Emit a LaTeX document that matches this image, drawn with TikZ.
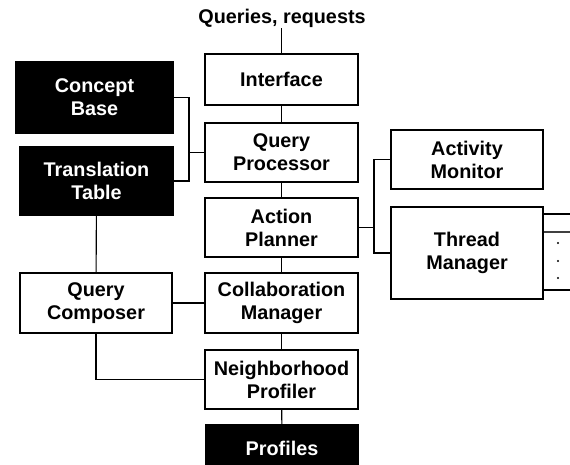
\documentclass[tikz,border=0pt]{standalone}
\usepackage{fontspec}
\setmainfont{Liberation Sans}
\usetikzlibrary{positioning}

\begin{document}
\begin{tikzpicture}[x=1pt,y=-1pt,
    box/.style={draw, line width=1.1pt, fill=white, inner sep=0pt,
        minimum width=153pt, minimum height=59pt, align=center,
        font=\bfseries\fontsize{19.8}{23}\selectfont},
    store/.style={box, fill=black, text=white},
    wire/.style={line width=1.1pt}]
    \clip (0,0) rectangle (570,465);

    % Main column
    \node[font=\bfseries\fontsize{19.8}{23}\selectfont, inner sep=1pt] (queries) at (282,18) {Queries, requests};
    \node[box, minimum height=51pt] (iface) at (281.5,79.5) {Interface};
    \node[box] (qproc) at (281.5,152.5) {Query\\Processor};
    \node[box] (planner) at (281.5,227.5) {Action\\Planner};
    \node[box, minimum height=60pt] (collab) at (281.5,303) {Collaboration\\Manager};
    \node[box] (nprof) at (281.5,379.5) {Neighborhood\\Profiler};
    \node[store, minimum width=152pt, minimum height=46pt] (profiles) at (282,448) {Profiles};

    % Knowledge stores and composer
    \node[store, minimum width=157pt, minimum height=71pt] (cbase) at (94.5,97.5) {Concept\\Base};
    \node[store, minimum height=68pt] (ttable) at (96.5,181) {Translation\\Table};
    \node[box, minimum width=152pt, minimum height=60pt] (qcomp) at (96,303) {Query\\Composer};

    % Monitor and threads
    \node[box, minimum width=152pt] (amon) at (467,159.5) {Activity\\Monitor};
    \node[box, minimum width=152pt, minimum height=92pt] (tman) at (467,253) {Thread\\Manager};

    \coordinate (kb) at (189,152);
    \coordinate (tb) at (374,227);
    \coordinate (out1) at (575,214);
    \coordinate (out2) at (575,232);
    \coordinate (out3) at (575,290);

    % Connectors
    \draw[wire] (iface.north) -- (iface.north |- queries.south);
    \draw[wire] (iface) -- (qproc);
    \draw[wire] (qproc) -- (planner);
    \draw[wire] (planner) -- (collab);
    \draw[wire] (collab) -- (nprof);
    \draw[wire] (nprof) -- (profiles);
    \draw[wire] (cbase.east) -- (kb |- cbase.east) -- (kb |- ttable.east) -- (ttable.east);
    \draw[wire] (kb |- qproc.west) -- (qproc.west);
    \draw[wire] (planner.east) -- (tb |- planner.east);
    \draw[wire] (amon.west) -- (tb |- amon.west) -- (tb |- tman.west) -- (tman.west);
    \draw[wire] (ttable) -- (qcomp);
    \draw[wire] (qcomp) -- (collab);
    \draw[wire] (qcomp.south) |- (nprof.west);
    \draw[wire] (tman.east |- out1) -- (out1);
    \draw[wire, black!75] (tman.east |- out2) -- (out2);
    \draw[wire] (tman.east |- out3) -- (out3);
    \foreach \y in {243,261,278} {
        \fill (558,\y) circle (1.1pt);
    }
\end{tikzpicture}
\end{document}
